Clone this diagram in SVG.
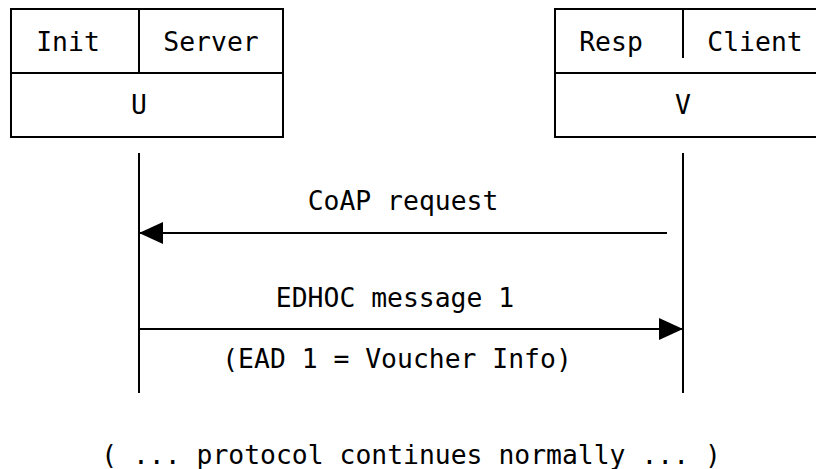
<svg xmlns="http://www.w3.org/2000/svg" width="816" height="469" viewBox="0 0 816 469">
  <style>
    .box { fill: none; stroke: #000; stroke-width: 2; }
    .ln { stroke: #000; stroke-width: 2; fill: none; }
    text { font-family: "DejaVu Sans Mono", "Liberation Mono", monospace; font-size: 26.4px; fill: #000; text-anchor: middle; }
  </style>
  <defs>
    <marker id="arrowhead" markerUnits="userSpaceOnUse" markerWidth="26" markerHeight="24" refX="24" refY="11" orient="auto">
      <path d="M0,0 L24,11 L0,22 Z" fill="#000"/>
    </marker>
  </defs>
  <rect width="816" height="469" fill="#fff"/>

  <g id="node-u">
    <rect class="box" x="11" y="9" width="272" height="128"/>
    <line class="ln" x1="11" y1="73" x2="283" y2="73"/>
    <line class="ln" x1="139" y1="9" x2="139" y2="73"/>
    <text x="68" y="51">Init</text>
    <text x="211" y="51">Server</text>
    <text x="139" y="114">U</text>
  </g>

  <g id="node-v">
    <rect class="box" x="555" y="9" width="280" height="128"/>
    <line class="ln" x1="555" y1="73" x2="835" y2="73"/>
    <line class="ln" x1="683" y1="9" x2="683" y2="58"/>
    <text x="611" y="51">Resp</text>
    <text x="755" y="51">Client</text>
    <text x="683" y="114">V</text>
  </g>

  <g id="connectors">
    <line class="ln" x1="139" y1="153" x2="139" y2="393"/>
    <line class="ln" x1="683" y1="153" x2="683" y2="393"/>
    <line class="ln" x1="667" y1="233" x2="139" y2="233" marker-end="url(#arrowhead)"/>
    <line class="ln" x1="139" y1="329" x2="683" y2="329" marker-end="url(#arrowhead)"/>
    <text x="403" y="210">CoAP request</text>
    <text x="395" y="307">EDHOC message 1</text>
    <text x="397" y="368">(EAD 1 = Voucher Info)</text>
  </g>

  <text x="411" y="464">( ... protocol continues normally ... )</text>
</svg>
